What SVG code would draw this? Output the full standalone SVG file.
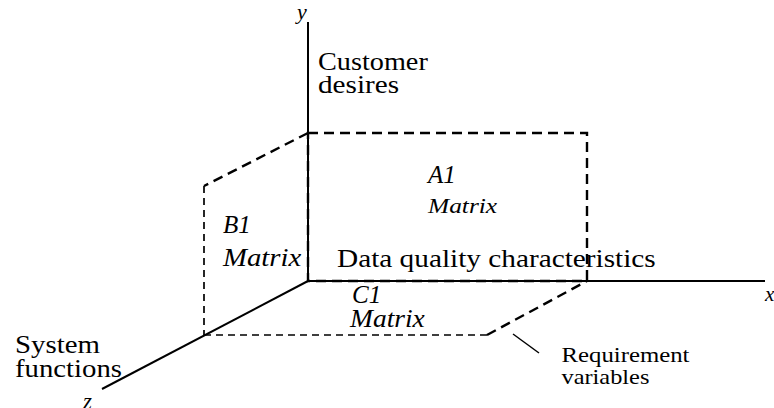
<svg xmlns="http://www.w3.org/2000/svg" width="774" height="408" viewBox="0 0 774 408">
<style>
.ax{stroke:#000;stroke-width:2;fill:none}
.d{stroke:#000;stroke-width:2.4;fill:none;stroke-dasharray:10 6}
.dt{stroke:#000;stroke-width:1.7;fill:none;stroke-dasharray:7 5}
.ld{stroke:#000;stroke-width:1.5;fill:none}
</style>
<rect width="774" height="408" fill="#fff"/>
<g id="connectors">
<line class="ax" x1="308" y1="22" x2="308" y2="281"/>
<line class="ax" x1="308" y1="281" x2="765" y2="281"/>
<line class="ax" x1="308" y1="281" x2="102" y2="389"/>
<line class="ld" x1="513" y1="334" x2="539" y2="353"/>
</g>
<g font-family="Liberation Serif, Times New Roman, serif" fill="#000" font-size="25">
<g id="A1">
<rect class="d" x="308" y="133" width="279" height="148"/>
<text font-style="italic" transform="translate(428 183)">A1</text>
<text font-style="italic" font-size="21" transform="translate(428 213) scale(1.21 1)">Matrix</text>
</g>
<g id="B1">
<polyline class="d" points="308,133 204,186"/>
<polyline class="dt" points="204,186 204,335"/>
<text font-style="italic" transform="translate(223 233)">B1</text>
<text font-style="italic" transform="translate(223 266) scale(1.15 1)">Matrix</text>
</g>
<g id="C1">
<polyline class="dt" points="204,335 487,335"/>
<polyline class="d" points="487,335 587,281"/>
<text font-style="italic" transform="translate(352 303)">C1</text>
<text font-style="italic" transform="translate(350 327) scale(1.1 1)">Matrix</text>
</g>
<g id="labels">
<text font-style="italic" font-size="22" transform="translate(297 19)">y</text>
<text font-style="italic" font-size="21" transform="translate(765 301)">x</text>
<text font-style="italic" font-size="23" transform="translate(83 408.5)">z</text>
<text transform="translate(318 70) scale(1.13 1)">Customer</text>
<text transform="translate(318 92.5) scale(1.17 1)">desires</text>
<text transform="translate(337 267) scale(1.172 1)">Data quality characteristics</text>
<text transform="translate(15 353) scale(1.155 1)">System</text>
<text transform="translate(15 376.5) scale(1.15 1)">functions</text>
<text font-size="21" transform="translate(561.5 362) scale(1.18 1)">Requirement</text>
<text font-size="21" transform="translate(561.5 384) scale(1.16 1)">variables</text>
</g>
</g>
</svg>
